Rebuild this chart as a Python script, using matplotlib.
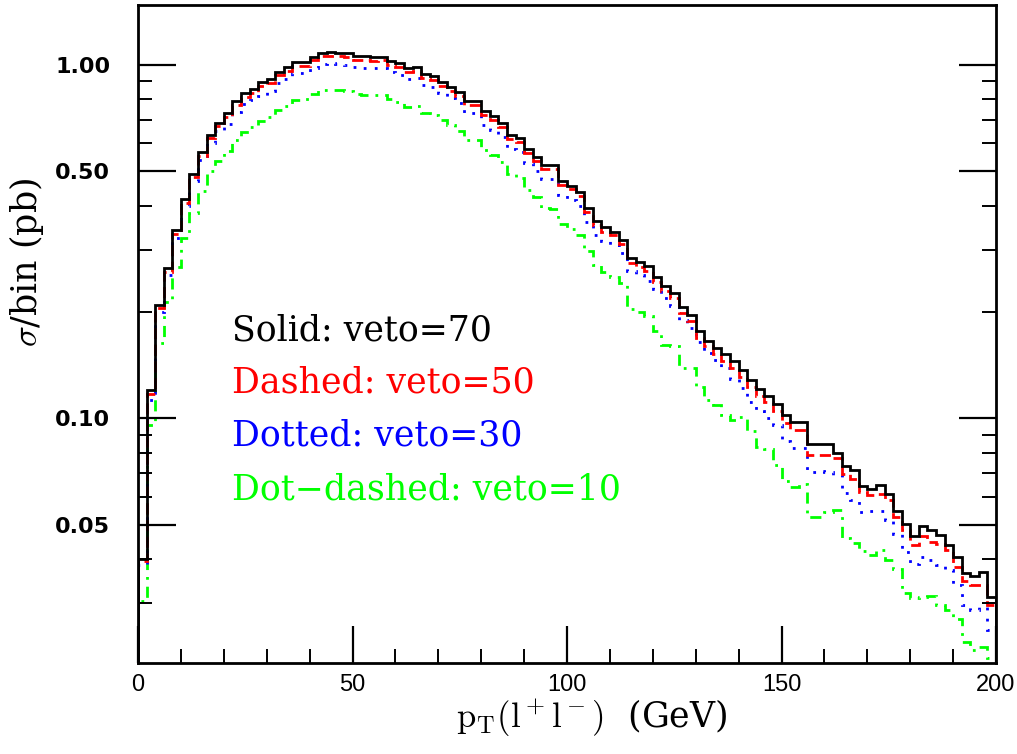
import numpy as np
import matplotlib
matplotlib.use("Agg")
import matplotlib.pyplot as plt
from matplotlib.ticker import FixedLocator, NullFormatter

# bin edges: 100 bins of 2 GeV from 0 to 200
bin_width = 2.0
n_bins = 100

# sigma/bin (pb), veto = 70 (solid)
veto70 = [0.040, 0.120, 0.210, 0.267, 0.341, 0.417, 0.493, 0.566, 0.634, 0.687,
          0.730, 0.791, 0.832, 0.855, 0.893, 0.912, 0.958, 0.985, 1.021, 1.021,
          1.057, 1.085, 1.090, 1.085, 1.081, 1.060, 1.058, 1.055, 1.057, 1.030,
          1.012, 0.980, 0.988, 0.944, 0.932, 0.897, 0.869, 0.840, 0.790, 0.790,
          0.740, 0.718, 0.686, 0.635, 0.620, 0.577, 0.551, 0.521, 0.521, 0.470,
          0.456, 0.438, 0.394, 0.362, 0.347, 0.338, 0.320, 0.285, 0.278, 0.270,
          0.252, 0.237, 0.227, 0.206, 0.196, 0.177, 0.166, 0.158, 0.152, 0.145,
          0.137, 0.128, 0.121, 0.116, 0.110, 0.102, 0.0978, 0.0978, 0.0848, 0.0848,
          0.0848, 0.0797, 0.0735, 0.0713, 0.0643, 0.0630, 0.0646, 0.0612, 0.0547, 0.0502,
          0.0463, 0.0495, 0.0482, 0.0467, 0.0437, 0.0405, 0.0366, 0.0358, 0.0368, 0.0313]

# veto = 50 (dashed)
veto50 = [0.0395, 0.117, 0.205, 0.260, 0.333, 0.407, 0.482, 0.553, 0.620, 0.672,
          0.714, 0.773, 0.814, 0.836, 0.872, 0.891, 0.935, 0.962, 0.997, 0.997,
          1.031, 1.058, 1.063, 1.058, 1.054, 1.034, 1.032, 1.029, 1.031, 1.004,
          0.987, 0.956, 0.963, 0.920, 0.909, 0.875, 0.847, 0.819, 0.770, 0.770,
          0.722, 0.700, 0.669, 0.619, 0.605, 0.563, 0.537, 0.508, 0.508, 0.458,
          0.445, 0.427, 0.384, 0.353, 0.338, 0.330, 0.312, 0.276, 0.269, 0.261,
          0.243, 0.229, 0.219, 0.199, 0.189, 0.169, 0.160, 0.152, 0.145, 0.139,
          0.131, 0.123, 0.116, 0.111, 0.105, 0.0970, 0.0925, 0.0925, 0.0787, 0.0787,
          0.0787, 0.0770, 0.0697, 0.0672, 0.0617, 0.0608, 0.0612, 0.0587, 0.0525, 0.0482,
          0.0439, 0.0464, 0.0447, 0.0441, 0.0423, 0.0380, 0.0347, 0.0338, 0.0338, 0.0297]

# veto = 30 (dotted)
veto30 = [0.0385, 0.113, 0.200, 0.254, 0.325, 0.398, 0.470, 0.538, 0.600, 0.650,
          0.680, 0.736, 0.775, 0.796, 0.820, 0.845, 0.888, 0.915, 0.948, 0.950,
          0.982, 1.008, 1.012, 1.008, 1.004, 0.985, 0.983, 0.980, 0.983, 0.957,
          0.940, 0.912, 0.918, 0.877, 0.866, 0.833, 0.807, 0.780, 0.733, 0.733,
          0.678, 0.656, 0.627, 0.580, 0.567, 0.527, 0.503, 0.475, 0.475, 0.429,
          0.416, 0.400, 0.360, 0.331, 0.317, 0.309, 0.293, 0.262, 0.254, 0.245,
          0.232, 0.219, 0.208, 0.190, 0.180, 0.164, 0.153, 0.146, 0.139, 0.129,
          0.122, 0.111, 0.105, 0.100, 0.0955, 0.0862, 0.0826, 0.0824, 0.0705, 0.0708,
          0.0705, 0.0692, 0.0615, 0.0589, 0.0542, 0.0545, 0.0547, 0.0514, 0.0472, 0.0419,
          0.0388, 0.0405, 0.0396, 0.0384, 0.0371, 0.0337, 0.0296, 0.0286, 0.0293, 0.0252]

# veto = 10 (dot-dashed)
veto10 = [0.0305, 0.096, 0.163, 0.213, 0.269, 0.324, 0.381, 0.440, 0.500, 0.535,
          0.570, 0.615, 0.648, 0.666, 0.695, 0.712, 0.745, 0.768, 0.798, 0.800,
          0.826, 0.848, 0.853, 0.850, 0.845, 0.826, 0.825, 0.822, 0.823, 0.802,
          0.787, 0.762, 0.768, 0.734, 0.724, 0.697, 0.675, 0.651, 0.613, 0.613,
          0.574, 0.558, 0.532, 0.491, 0.480, 0.444, 0.424, 0.393, 0.392, 0.356,
          0.343, 0.330, 0.297, 0.272, 0.259, 0.252, 0.241, 0.204, 0.200, 0.195,
          0.177, 0.161, 0.160, 0.139, 0.139, 0.123, 0.113, 0.109, 0.102, 0.099,
          0.101, 0.092, 0.083, 0.082, 0.074, 0.0665, 0.064, 0.065, 0.0527, 0.0527,
          0.0543, 0.0550, 0.0459, 0.0445, 0.0420, 0.0410, 0.0423, 0.0397, 0.0375, 0.0320,
          0.0311, 0.0312, 0.0314, 0.0296, 0.0286, 0.0271, 0.0233, 0.0221, 0.0226, 0.0210]

labels = ["Solid: veto=70", "Dashed: veto=50", "Dotted: veto=30", "Dot\u2212dashed: veto=10"]
colors = ["black", "#ff0000", "#0000ff", "#00ff00"]

edges = np.arange(n_bins + 1) * bin_width

plt.rcParams['mathtext.fontset'] = 'cm'
serif = ['DejaVu Serif']

fig = plt.figure(figsize=(10.17, 7.54), dpi=100)
ax = fig.add_axes([0.1357, 0.1207, 0.8437, 0.8727])

ax.stairs(veto10, edges, baseline=0.005, color=colors[3], lw=2.0,
          linestyle=(0, (4, 2.5, 1, 2.5)))
ax.stairs(veto30, edges, baseline=0.005, color=colors[2], lw=2.0,
          linestyle=(0, (1, 3)))
ax.stairs(veto50, edges, baseline=0.005, color=colors[1], lw=2.0,
          linestyle=(0, (4, 2)))
ax.stairs(veto70, edges, baseline=0.005, color=colors[0], lw=2.0)

ax.set_yscale('log')
ax.set_xlim(0, 200)
ax.set_ylim(0.0203, 1.48)

ax.xaxis.set_major_locator(FixedLocator([0, 50, 100, 150, 200]))
ax.xaxis.set_minor_locator(FixedLocator(np.arange(0, 201, 10)))
ax.yaxis.set_major_locator(FixedLocator([0.05, 0.1, 0.5, 1.0]))
ax.yaxis.set_minor_locator(FixedLocator([0.02, 0.03, 0.04, 0.06, 0.07, 0.08, 0.09,
                                         0.2, 0.3, 0.4, 0.6, 0.7, 0.8, 0.9]))
ax.yaxis.set_minor_formatter(NullFormatter())
ax.set_yticklabels(["0.05", "0.10", "0.50", "1.00"], fontsize=16, fontweight='bold',
                   family=['DejaVu Sans'])
ax.set_xticklabels(["0", "50", "100", "150", "200"], fontsize=17,
                   family=['Liberation Sans', 'DejaVu Sans'])

ax.tick_params(which='major', direction='in', length=27, width=1.6,
               top=False, right=True, pad=8)
ax.tick_params(which='minor', direction='in', length=10, width=1.4,
               top=False, right=True)
ax.tick_params(axis='y', which='major', pad=20)
for s in ax.spines.values():
    s.set_linewidth(2)

ax.set_xlabel(r'$\mathrm{p_T(l^+l^-)}$  (GeV)', fontsize=25, family=serif)
ax.xaxis.set_label_coords(0.529, -0.052)
ax.set_ylabel(r'$\sigma$/bin (pb)', fontsize=25, family=serif)
ax.yaxis.set_label_coords(-0.107, 0.609)

ys = [0.506, 0.427, 0.345, 0.263]
for lab, c, yy in zip(labels, colors, ys):
    ax.text(0.1096, yy, lab, color=c, fontsize=25, family=serif,
            transform=ax.transAxes, va='center', ha='left')

fig.savefig("out.png", dpi=100)
